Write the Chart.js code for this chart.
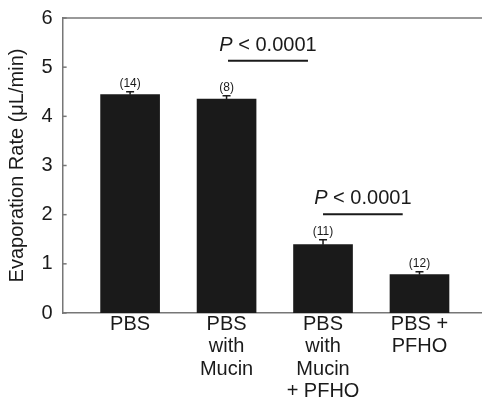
<!DOCTYPE html>
<html>
<head>
<meta charset="utf-8">
<style>
  html, body { margin: 0; padding: 0; background: #fff; }
  #wrap { width: 482px; height: 408px; }
</style>
</head>
<body>
<div id="wrap">
  <canvas id="myChart"></canvas>
</div>

<script src="https://cdn.jsdelivr.net/npm/chart.js"></script>

<script>
  const groups = [
    ['PBS'],
    ['PBS', 'with', 'Mucin'],
    ['PBS', 'with', 'Mucin', '+ PFHO'],
    ['PBS +', 'PFHO']
  ];
  const rates = [4.44, 4.35, 1.39, 0.78];
  const errors = [0.06, 0.07, 0.10, 0.06];
  const nCounts = ['(14)', '(8)', '(11)', '(12)'];
  const yTicks = [0, 1, 2, 3, 4, 5, 6];

  // significance brackets (x in group units, y in data units)
  const sigFrom = [2.015, 3.0];
  const sigTo = [2.844, 3.826];
  const sigY = [5.13, 2.01];
  const sigText = ['< 0.0001', '< 0.0001'];

  const FONT = "'Liberation Sans', Arial, sans-serif";
  const ink = '#1a1a1a';

  const extras = {
    id: 'extras',
    afterDatasetsDraw(chart) {
      const c = chart.ctx;
      const xs = chart.scales.x, ys = chart.scales.y;
      const area = chart.chartArea;
      c.save();
      // top frame line
      c.strokeStyle = '#777';
      c.lineWidth = 1.5;
      c.beginPath();
      c.moveTo(area.left, area.top);
      c.lineTo(area.right, area.top);
      c.stroke();
      // inward y ticks
      yTicks.forEach(v => {
        const py = ys.getPixelForValue(v);
        c.beginPath();
        c.moveTo(area.left, py);
        c.lineTo(area.left + 4, py);
        c.stroke();
      });
      // error bars and n labels
      c.strokeStyle = ink;
      c.lineWidth = 1.5;
      c.fillStyle = ink;
      c.font = '12px ' + FONT;
      c.textAlign = 'center';
      c.textBaseline = 'bottom';
      rates.forEach((v, i) => {
        const px = xs.getPixelForValue(i + 1);
        const top = ys.getPixelForValue(v);
        const cap = ys.getPixelForValue(v + errors[i]);
        c.beginPath();
        c.moveTo(px, top);
        c.lineTo(px, cap);
        c.moveTo(px - 4, cap);
        c.lineTo(px + 4, cap);
        c.stroke();
        c.fillText(nCounts[i], px, cap - 2);
      });
      // significance lines
      c.lineWidth = 2;
      c.textAlign = 'left';
      c.textBaseline = 'alphabetic';
      sigY.forEach((v, i) => {
        const x0 = xs.getPixelForValue(sigFrom[i]);
        const x1 = xs.getPixelForValue(sigTo[i]);
        const py = ys.getPixelForValue(v);
        c.beginPath();
        c.moveTo(x0, py);
        c.lineTo(x1, py);
        c.stroke();
        c.font = 'italic 20px ' + FONT;
        const wP = c.measureText('P ').width;
        c.font = '20px ' + FONT;
        const wR = c.measureText(sigText[i]).width;
        const start = (x0 + x1) / 2 - (wP + wR) / 2;
        c.font = 'italic 20px ' + FONT;
        c.fillText('P', start, py - 10);
        c.font = '20px ' + FONT;
        c.fillText(sigText[i], start + wP, py - 10);
      });
      c.restore();
    }
  };

  new Chart(document.getElementById('myChart'), {
    type: 'bar',
    data: {
      datasets: [{
        data: rates.map((v, i) => ({ x: i + 1, y: v })),
        backgroundColor: ink,
        borderWidth: 0,
        barThickness: 59
      }]
    },
    options: {
      responsive: true,
      maintainAspectRatio: false,
      animation: false,
      layout: { padding: { left: 5, top: 0, right: 0, bottom: 5.4 } },
      plugins: { legend: { display: false }, tooltip: { enabled: false } },
      scales: {
        x: {
          type: 'linear',
          offset: false,
          min: 0.3005,
          max: 4.648,
          afterBuildTicks: s => { s.ticks = groups.map((g, i) => ({ value: i + 1 })); },
          grid: { display: false, drawTicks: false, tickLength: 0 },
          border: { color: '#777', width: 1.5 },
          ticks: {
            autoSkip: false,
            maxRotation: 0,
            padding: 0,
            color: ink,
            font: { family: FONT, size: 20, lineHeight: 1.12 },
            callback: v => groups[v - 1]
          }
        },
        y: {
          min: 0,
          max: 6,
          afterBuildTicks: s => { s.ticks = yTicks.map(v => ({ value: v })); },
          grid: { display: false, drawTicks: false, tickLength: 0 },
          border: { color: '#777', width: 1.5 },
          ticks: {
            padding: 10,
            color: ink,
            font: { family: FONT, size: 20, lineHeight: 0.8 }
          },
          title: {
            display: true,
            text: 'Evaporation Rate (μL/min)',
            color: ink,
            font: { family: FONT, size: 20 },
            padding: { top: 0, bottom: 2.5 }
          }
        }
      }
    },
    plugins: [extras]
  });
</script>
</body>
</html>
